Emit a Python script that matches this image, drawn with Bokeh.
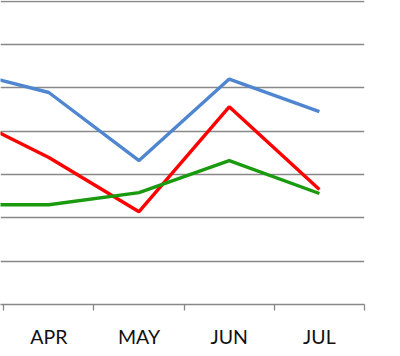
from bokeh.plotting import figure
from bokeh.models import FixedTicker, Range1d
from bokeh.embed import file_html
from bokeh.resources import INLINE

months = ["MAR", "APR", "MAY", "JUN", "JUL"]
blue_vals = [54.2, 48.9, 33.2, 52.0, 44.5]
red_vals = [44.3, 33.9, 21.4, 45.6, 26.5]
green_vals = [23.0, 23.0, 25.8, 33.2, 25.6]
y_ticks = [0, 10, 20, 30, 40, 50, 60, 70]

xs = list(range(len(months)))

p = figure(width=400, height=356, output_backend="svg", toolbar_location=None,
           x_range=Range1d(0.464, 4.5), y_range=Range1d(0, 70.12),
           min_border_left=0, min_border_right=36, min_border_top=0, min_border_bottom=52)
p.outline_line_color = None
p.background_fill_color = "white"
p.border_fill_color = "white"

p.line(xs, blue_vals, line_color="#4F86CF", line_width=3.4)
p.line(xs, red_vals, line_color="#FF0000", line_width=3.4)
p.line(xs, green_vals, line_color="#1A9A0E", line_width=3.4)

p.yaxis.visible = False
p.ygrid.ticker = FixedTicker(ticks=y_ticks)
p.ygrid.grid_line_color = "#888888"
p.ygrid.grid_line_width = 1.3
p.xgrid.visible = False

ax = p.xaxis[0]
ax.ticker = FixedTicker(ticks=xs[1:], minor_ticks=[x + 0.5 for x in xs])
ax.major_label_overrides = {i: m for i, m in enumerate(months)}
ax.major_tick_line_color = None
ax.major_tick_out = 0
ax.major_tick_in = 0
ax.minor_tick_line_color = "#888888"
ax.minor_tick_line_width = 1.3
ax.minor_tick_out = 6
ax.minor_tick_in = 0
ax.axis_line_color = "#888888"
ax.axis_line_width = 1.3
ax.major_label_text_font = "Lato"
ax.major_label_text_font_size = "19.5px"
ax.major_label_text_color = "#111111"
ax.major_label_standoff = 14

open("out.html", "w").write(file_html(p, INLINE))
